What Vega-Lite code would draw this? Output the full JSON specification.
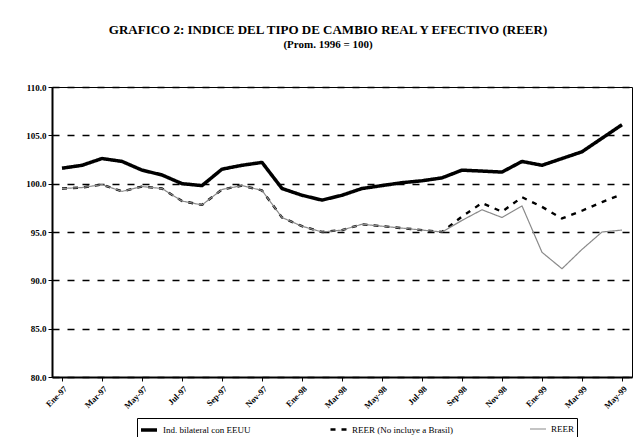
{
  "$schema": "https://vega.github.io/schema/vega-lite/v6.json",
  "autosize": "none",
  "width": 580,
  "height": 290,
  "padding": {"left": 52, "top": 87, "right": 6, "bottom": 60},
  "background": "white",
  "title": {
    "text": "GRAFICO 2: INDICE DEL TIPO DE CAMBIO REAL Y EFECTIVO (REER)",
    "subtitle": "(Prom. 1996 = 100)",
    "anchor": "middle",
    "dx": -14,
    "font": "Liberation Serif",
    "fontSize": 13,
    "fontWeight": "bold",
    "color": "black",
    "subtitleFont": "Liberation Serif",
    "subtitleFontSize": 11,
    "subtitleFontWeight": "bold",
    "subtitleColor": "black",
    "subtitlePadding": 2,
    "offset": 33
  },
  "data": {
    "values": [
      {"mes": "Ene-97", "bilateral": 101.6, "reer_nb": 99.5, "reer": 99.5},
      {"mes": "Feb-97", "bilateral": 101.9, "reer_nb": 99.6, "reer": 99.6},
      {"mes": "Mar-97", "bilateral": 102.6, "reer_nb": 99.9, "reer": 99.9},
      {"mes": "Abr-97", "bilateral": 102.3, "reer_nb": 99.2, "reer": 99.2},
      {"mes": "May-97", "bilateral": 101.4, "reer_nb": 99.7, "reer": 99.7},
      {"mes": "Jun-97", "bilateral": 100.9, "reer_nb": 99.5, "reer": 99.5},
      {"mes": "Jul-97", "bilateral": 100.0, "reer_nb": 98.2, "reer": 98.2},
      {"mes": "Ago-97", "bilateral": 99.8, "reer_nb": 97.8, "reer": 97.8},
      {"mes": "Sep-97", "bilateral": 101.5, "reer_nb": 99.4, "reer": 99.4},
      {"mes": "Oct-97", "bilateral": 101.9, "reer_nb": 99.8, "reer": 99.8},
      {"mes": "Nov-97", "bilateral": 102.2, "reer_nb": 99.3, "reer": 99.3},
      {"mes": "Dic-97", "bilateral": 99.5, "reer_nb": 96.5, "reer": 96.5},
      {"mes": "Ene-98", "bilateral": 98.8, "reer_nb": 95.6, "reer": 95.6},
      {"mes": "Feb-98", "bilateral": 98.3, "reer_nb": 95.0, "reer": 95.0},
      {"mes": "Mar-98", "bilateral": 98.8, "reer_nb": 95.2, "reer": 95.2},
      {"mes": "Abr-98", "bilateral": 99.5, "reer_nb": 95.8, "reer": 95.8},
      {"mes": "May-98", "bilateral": 99.8, "reer_nb": 95.6, "reer": 95.6},
      {"mes": "Jun-98", "bilateral": 100.1, "reer_nb": 95.4, "reer": 95.4},
      {"mes": "Jul-98", "bilateral": 100.3, "reer_nb": 95.2, "reer": 95.2},
      {"mes": "Ago-98", "bilateral": 100.6, "reer_nb": 95.0, "reer": 95.0},
      {"mes": "Sep-98", "bilateral": 101.4, "reer_nb": 96.6, "reer": 96.2},
      {"mes": "Oct-98", "bilateral": 101.3, "reer_nb": 98.0, "reer": 97.3},
      {"mes": "Nov-98", "bilateral": 101.2, "reer_nb": 97.1, "reer": 96.5},
      {"mes": "Dic-98", "bilateral": 102.3, "reer_nb": 98.6, "reer": 97.7},
      {"mes": "Ene-99", "bilateral": 101.9, "reer_nb": 97.6, "reer": 92.9},
      {"mes": "Feb-99", "bilateral": 102.6, "reer_nb": 96.4, "reer": 91.2},
      {"mes": "Mar-99", "bilateral": 103.3, "reer_nb": 97.2, "reer": 93.2},
      {"mes": "Abr-99", "bilateral": 104.7, "reer_nb": 98.1, "reer": 95.0},
      {"mes": "May-99", "bilateral": 106.1, "reer_nb": 98.9, "reer": 95.2}
    ]
  },
  "transform": [{"fold": ["bilateral", "reer_nb", "reer"], "as": ["serie", "valor"]}],
  "mark": {"type": "line", "strokeJoin": "round"},
  "encoding": {
    "x": {
      "field": "mes",
      "type": "ordinal",
      "sort": null,
      "scale": {"type": "point", "padding": 0.5},
      "axis": {
        "title": null,
        "values": ["Ene-97", "Mar-97", "May-97", "Jul-97", "Sep-97", "Nov-97", "Ene-98", "Mar-98", "May-98", "Jul-98", "Sep-98", "Nov-98", "Ene-99", "Mar-99", "May-99"],
        "labelAngle": -45,
        "labelAlign": "right",
        "labelBaseline": "top",
        "labelFont": "Liberation Serif",
        "labelFontWeight": "bold",
        "labelFontSize": 8.5,
        "labelColor": "black",
        "labelPadding": 3,
        "domainColor": "black",
        "domainWidth": 2,
        "tickColor": "black",
        "tickSize": 4,
        "grid": false
      }
    },
    "y": {
      "field": "valor",
      "type": "quantitative",
      "scale": {"domain": [80, 110], "nice": false, "zero": false},
      "axis": {
        "title": null,
        "values": [80, 85, 90, 95, 100, 105, 110],
        "format": ".1f",
        "labelFont": "Liberation Serif",
        "labelFontWeight": "bold",
        "labelFontSize": 9,
        "labelColor": "black",
        "labelPadding": 2,
        "domainColor": "black",
        "domainWidth": 2,
        "tickColor": "black",
        "tickSize": 4,
        "grid": true,
        "gridColor": "black",
        "gridDash": [7, 8],
        "gridWidth": 1.5
      }
    },
    "color": {
      "field": "serie",
      "type": "nominal",
      "scale": {"domain": ["bilateral", "reer_nb", "reer"], "range": ["#000000", "#000000", "#8a8a8a"]},
      "legend": {
        "title": null,
        "orient": "none",
        "legendX": 85,
        "legendY": 331,
        "direction": "horizontal",
        "gridAlign": "none",
        "columnPadding": 74,
        "symbolType": "stroke",
        "symbolSize": 256,
        "strokeColor": "black",
        "padding": 2,
        "labelFont": "Liberation Serif",
        "labelFontSize": 9,
        "labelColor": "black",
        "labelLimit": 300,
        "labelExpr": "datum.label == 'bilateral' ? 'Ind. bilateral con EEUU' : datum.label == 'reer_nb' ? 'REER (No incluye a Brasil)' : 'REER'"
      }
    },
    "strokeDash": {
      "field": "serie",
      "type": "nominal",
      "scale": {"domain": ["bilateral", "reer_nb", "reer"], "range": [[1, 0], [5, 6], [1, 0]]}
    },
    "strokeWidth": {
      "field": "serie",
      "type": "nominal",
      "scale": {"domain": ["bilateral", "reer_nb", "reer"], "range": [3.5, 1.2, 1.2]}
    }
  },
  "config": {
    "view": {"stroke": "black", "strokeWidth": 1}
  }
}
